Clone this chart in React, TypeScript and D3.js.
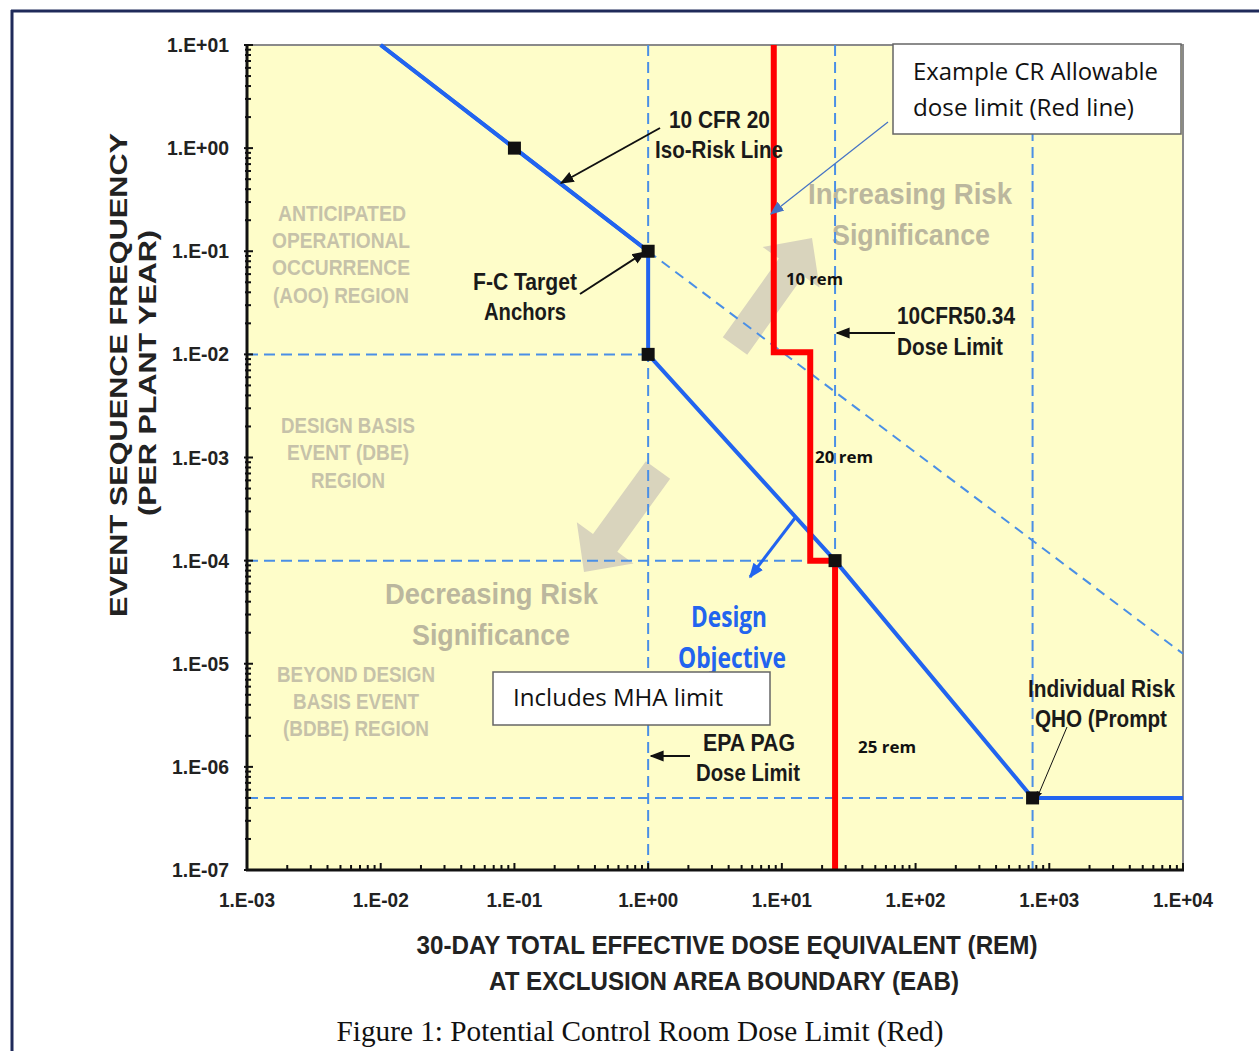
import React from 'react';
import * as d3 from 'd3';

// 10 CFR 20 iso-risk line (solid part, then dashed extension)
const isoDose = [0.01, 0.1, 1];
const isoFreq = [10, 1, 0.1];
const isoExtDose = [1, 10000];
const isoExtFreq = [0.1, 1.25e-5];

// F-C target curve
const fcDose = [0.01, 0.1, 1, 1, 25, 750, 10000];
const fcFreq = [10, 1, 0.1, 0.01, 1e-4, 5e-7, 5e-7];

// F-C target anchors (black squares)
const anchorDose = [0.1, 1, 1, 25, 750];
const anchorFreq = [1, 0.1, 0.01, 1e-4, 5e-7];

// example control room allowable dose limit (red)
const crDose = [8.7, 8.7, 16.3, 16.3, 25, 25];
const crFreq = [10, 0.0105, 0.0105, 1e-4, 1e-4, 1e-7];

// reference dashed lines
const vRefDose = [1, 25, 750];
const hRefFreq = [1e-2, 1e-4, 5e-7];
const hRefEndDose = [1, 25, 750];

const xTickExp = [-3, -2, -1, 0, 1, 2, 3, 4];
const yTickExp = [1, 0, -1, -2, -3, -4, -5, -6, -7];

const W = 1259;
const H = 1051;
const m = { left: 247, right: 1183, top: 45, bottom: 870 };

const SANS = "'Liberation Sans', Arial, sans-serif";
const CAL = "'Open Sans', 'Noto Sans', sans-serif";

const fmt = (e: number) => `1.E${e >= 0 ? '+' : '-'}${String(Math.abs(e)).padStart(2, '0')}`;

// condensed text: squeeze a normal face into the measured width
function T({ x, y, w, a = 'start', children }: any) {
  return (
    <text x={x} y={y} textLength={w} lengthAdjust="spacingAndGlyphs" textAnchor={a}>{children}</text>
  );
}

function blockArrow(x1: number, y1: number, x2: number, y2: number, sw: number, hw: number, hl: number) {
  const len = Math.hypot(x2 - x1, y2 - y1);
  const ux = (x2 - x1) / len, uy = (y2 - y1) / len;
  const nx = -uy, ny = ux;
  const bx = x2 - ux * hl, by = y2 - uy * hl;
  const p = [
    [x1 + nx * sw / 2, y1 + ny * sw / 2],
    [bx + nx * sw / 2, by + ny * sw / 2],
    [bx + nx * hw / 2, by + ny * hw / 2],
    [x2, y2],
    [bx - nx * hw / 2, by - ny * hw / 2],
    [bx - nx * sw / 2, by - ny * sw / 2],
    [x1 - nx * sw / 2, y1 - ny * sw / 2],
  ];
  return p.map(d => d.join(',')).join(' ');
}

export default function App() {
  const x = d3.scaleLog().domain([1e-3, 1e4]).range([m.left, m.right]);
  const y = d3.scaleLog().domain([1e-7, 1e1]).range([m.bottom, m.top]);

  const line = d3.line<[number, number]>().x(d => x(d[0])).y(d => y(d[1]));
  const zip = (a: number[], b: number[]) => a.map((v, i) => [v, b[i]] as [number, number]);

  const isMinor = (v: number) => Math.abs(Math.log10(v) - Math.round(Math.log10(v))) > 1e-6;
  const xMinor = x.ticks().filter(isMinor);
  const yMinor = y.ticks().filter(isMinor);

  const dashBlue = '#4a8fe6';
  const solidBlue = '#2264ef';
  const regionGray = '#c6c2a9';
  const riskGray = '#bbb79e';

  return (
    <div style={{ position: 'absolute', left: 0, top: 0 }}>
      <svg width={W} height={H} style={{ display: 'block', background: '#fff' }}>
        <defs>
          <marker id="ah" viewBox="0 0 10 10" refX="9" refY="5" markerWidth="7" markerHeight="7" orient="auto">
            <path d="M0,1 L10,5 L0,9 z" fill="#111" />
          </marker>
          <marker id="ahb" viewBox="0 0 10 10" refX="9" refY="5" markerWidth="5" markerHeight="5" orient="auto">
            <path d="M0,1 L10,5 L0,9 z" fill={solidBlue} />
          </marker>
          <marker id="ahl" viewBox="0 0 10 10" refX="9" refY="5" markerWidth="14" markerHeight="14" orient="auto" markerUnits="userSpaceOnUse">
            <path d="M0,1 L10,5 L0,9 z" fill="#4472c4" />
          </marker>
        </defs>

        {/* frame */}
        <line x1={11} y1={11} x2={W} y2={11} stroke="#1f2a5a" strokeWidth={3} />
        <line x1={12} y1={10} x2={12} y2={H} stroke="#1f2a5a" strokeWidth={3} />

        {/* plot background */}
        <rect x={m.left} y={m.top} width={m.right - m.left} height={m.bottom - m.top} fill="#fefdc9" stroke="#8a8a8a" strokeWidth={2} />

        {/* region labels */}
        <g fontFamily={SANS} fontSize={22} fill={regionGray} fontWeight="bold">
          <T x={342} y={221} w={128} a="middle">ANTICIPATED</T>
          <T x={341} y={248} w={138} a="middle">OPERATIONAL</T>
          <T x={341} y={275} w={138} a="middle">OCCURRENCE</T>
          <T x={341} y={303} w={136} a="middle">(AOO) REGION</T>
          <T x={348} y={433} w={134} a="middle">DESIGN BASIS</T>
          <T x={348} y={460} w={122} a="middle">EVENT (DBE)</T>
          <T x={348} y={488} w={74} a="middle">REGION</T>
          <T x={356} y={682} w={158} a="middle">BEYOND DESIGN</T>
          <T x={356} y={709} w={126} a="middle">BASIS EVENT</T>
          <T x={356} y={736} w={146} a="middle">(BDBE) REGION</T>
        </g>

        {/* risk direction arrows */}
        <polygon points={blockArrow(735, 346, 812, 238, 30, 70, 36)} fill="#d9d4bd" />
        <polygon points={blockArrow(658, 470, 584, 572, 30, 70, 36)} fill="#d9d4bd" />

        <g fontFamily={SANS} fontSize={30} fill={riskGray} fontWeight="bold">
          <T x={808} y={204} w={204}>Increasing Risk</T>
          <T x={832} y={245} w={158}>Significance</T>
          <T x={385} y={604} w={213}>Decreasing Risk</T>
          <T x={412} y={645} w={158}>Significance</T>
        </g>

        {/* reference dashed lines */}
        <g stroke={dashBlue} strokeWidth={2} strokeDasharray="11,6" fill="none">
          {vRefDose.map(d => (
            <line key={'v' + d} x1={x(d)} x2={x(d)} y1={m.top} y2={m.bottom} />
          ))}
          {hRefFreq.map((f, i) => (
            <line key={'h' + f} x1={m.left} x2={x(hRefEndDose[i])} y1={y(f)} y2={y(f)} />
          ))}
          <path d={line(zip(isoExtDose, isoExtFreq)) || ''} strokeDasharray="10,7" />
        </g>

        {/* F-C target curve */}
        <path d={line(zip(fcDose, fcFreq)) || ''} fill="none" stroke={solidBlue} strokeWidth={4} strokeLinejoin="round" />
        <path d={line(zip(isoDose, isoFreq)) || ''} fill="none" stroke={solidBlue} strokeWidth={4} />

        {/* control room limit */}
        <path d={line(zip(crDose, crFreq)) || ''} fill="none" stroke="#ff0000" strokeWidth={6} />

        {/* anchors */}
        {anchorDose.map((d, i) => (
          <rect key={i} x={x(d) - 6.5} y={y(anchorFreq[i]) - 6.5} width={13} height={13} fill="#111" />
        ))}

        {/* axes */}
        <line x1={m.left} x2={m.left} y1={m.top - 1} y2={m.bottom + 1} stroke="#111" strokeWidth={3} />
        <line x1={m.left - 1} x2={m.right + 1} y1={m.bottom} y2={m.bottom} stroke="#111" strokeWidth={3} />
        <g stroke="#111" strokeWidth={2}>
          {xMinor.map((v, i) => (
            <line key={'xm' + i} x1={x(v)} x2={x(v)} y1={m.bottom} y2={m.bottom - 5} />
          ))}
          {xTickExp.map(e => (
            <line key={'xM' + e} x1={x(10 ** e)} x2={x(10 ** e)} y1={m.bottom} y2={m.bottom - 7} />
          ))}
          {yMinor.map((v, i) => (
            <line key={'ym' + i} x1={m.left - 2} x2={m.left + 4} y1={y(v)} y2={y(v)} />
          ))}
          {yTickExp.map(e => (
            <line key={'yM' + e} x1={m.left - 3} x2={m.left + 6} y1={y(10 ** e)} y2={y(10 ** e)} />
          ))}
        </g>
        <g fontFamily={SANS} fontSize={21} fontWeight="bold" fill="#222">
          {xTickExp.map(e => (
            <T key={e} x={x(10 ** e)} y={907} w={e >= 0 ? 60 : 56} a="middle">{fmt(e)}</T>
          ))}
          {yTickExp.map(e => (
            <T key={e} x={229} y={y(10 ** e) + 7} w={e >= 0 ? 62 : 57} a="end">{fmt(e)}</T>
          ))}
        </g>

        {/* axis titles */}
        <g fontFamily={SANS} fontWeight="bold" fontSize={23} fill="#222" textAnchor="middle">
          <text transform="translate(127,375) rotate(-90)" textLength={484} lengthAdjust="spacingAndGlyphs">EVENT SEQUENCE  FREQUENCY</text>
          <text transform="translate(156,373) rotate(-90)" textLength={286} lengthAdjust="spacingAndGlyphs">(PER PLANT YEAR)</text>
        </g>
        <g fontFamily={SANS} fontWeight="bold" fontSize={26} fill="#222">
          <T x={727} y={954} w={621} a="middle">30-DAY  TOTAL  EFFECTIVE  DOSE  EQUIVALENT  (REM)</T>
          <T x={724} y={990} w={470} a="middle">AT  EXCLUSION  AREA  BOUNDARY  (EAB)</T>
        </g>

        {/* black annotations */}
        <g fontFamily={SANS} fontWeight="bold" fontSize={24} fill="#1a1a1a">
          <T x={669} y={128} w={101}>10 CFR 20</T>
          <T x={655} y={158} w={128}>Iso-Risk Line</T>
          <T x={473} y={290} w={104}>F-C Target</T>
          <T x={484} y={320} w={82}>Anchors</T>
          <T x={897} y={324} w={118}>10CFR50.34</T>
          <T x={897} y={355} w={106}>Dose Limit</T>
          <T x={703} y={751} w={92}>EPA PAG</T>
          <T x={696} y={781} w={104}>Dose Limit</T>
          <T x={1028} y={697} w={147}>Individual Risk</T>
          <T x={1035} y={727} w={132}>QHO (Prompt</T>
        </g>
        <g stroke="#111" strokeWidth={2} fill="none">
          <line x1={660} y1={128} x2={561} y2={183} markerEnd="url(#ah)" />
          <line x1={580} y1={294} x2={645} y2={252} markerEnd="url(#ah)" />
          <line x1={895} y1={333} x2={837} y2={333} markerEnd="url(#ah)" />
          <line x1={690} y1={756} x2={651} y2={756} markerEnd="url(#ah)" />
          <line x1={1067} y1={727} x2={1037} y2={798} strokeWidth={1} markerEnd="url(#ah)" />
        </g>

        {/* rem labels */}
        <g fontFamily={CAL} fontWeight="bold" fontSize={16} fill="#111">
          <T x={786} y={285} w={57}>10 rem</T>
          <T x={815} y={463} w={58}>20 rem</T>
          <T x={858} y={753} w={58}>25 rem</T>
        </g>

        {/* design objective */}
        <line x1={795} y1={518} x2={750} y2={577} stroke={solidBlue} strokeWidth={3} markerEnd="url(#ahb)" />
        <g fontFamily={CAL} fontWeight="bold" fontSize={28} fill={solidBlue}>
          <T x={691} y={627} w={76}>Design</T>
          <T x={678} y={668} w={108}>Objective</T>
        </g>

        {/* callout boxes */}
        <line x1={888} y1={122} x2={771} y2={214} stroke="#4472c4" strokeWidth={1.2} markerEnd="url(#ahl)" />
        <rect x={893} y={44} width={288} height={90} fill="#fff" stroke="#666" strokeWidth={1.5} />
        <g fontFamily={CAL} fontSize={23} fill="#111">
          <T x={913} y={80} w={245}>Example CR Allowable</T>
          <T x={913} y={116} w={221}>dose limit (Red line)</T>
        </g>
        <rect x={493} y={672} width={277} height={53} fill="#fff" stroke="#666" strokeWidth={1.5} />
        <g fontFamily={CAL} fontSize={23} fill="#111">
          <T x={513} y={706} w={210}>Includes MHA limit</T>
        </g>

        {/* caption */}
        <g fontFamily="'Liberation Serif', 'Times New Roman', serif" fontSize={29} fill="#111">
          <T x={640} y={1041} w={607} a="middle">Figure 1: Potential Control Room Dose Limit (Red)</T>
        </g>
      </svg>
    </div>
  );
}
